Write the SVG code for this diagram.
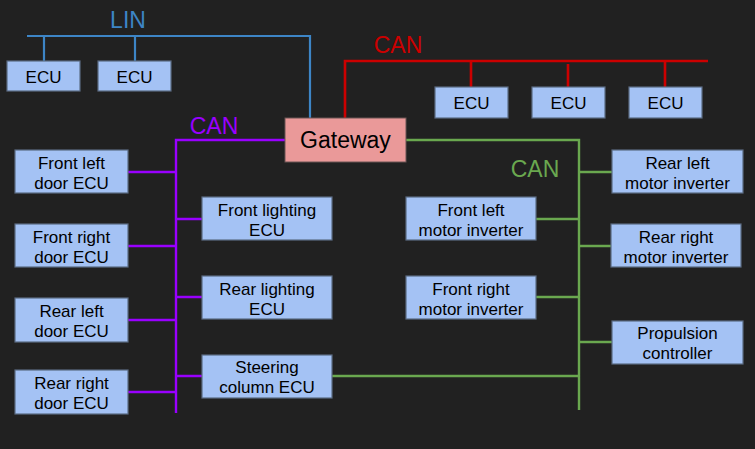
<svg xmlns="http://www.w3.org/2000/svg" width="755" height="449" viewBox="0 0 755 449">
<style>
.box{fill:#a4c2f4;stroke:#5b6b82;stroke-width:1.2}
.gw{fill:#ea9999;stroke:#6b5555;stroke-width:1}
text{font-family:"Liberation Sans",Arial,sans-serif;fill:#000;text-anchor:middle}
.t{font-size:17px}
.bus{font-size:23px}
.lin{stroke:#3d85c6;stroke-width:2.2;fill:none}
.red{stroke:#cc0000;stroke-width:2.6;fill:none}
.pur{stroke:#9900ff;stroke-width:2.4;fill:none}
.grn{stroke:#6aa84f;stroke-width:2.4;fill:none}
</style>
<rect width="755" height="449" fill="#212121"/>
<g id="connectors">
<path class="lin" d="M27,36 H310 V118 M44,36 V61 M135,36 V61"/>
<path class="red" d="M345,118 V61 H708 M471,61 V87 M568,64 V87 M665,61 V87"/>
<path class="pur" d="M285,140 H176 V413 M128,172 H176 M128,246 H176 M128,320 H176 M128,392 H176 M176,219 H202 M176,297 H202 M176,376 H202"/>
<path class="grn" d="M406,140 H579 V410 M536,219 H579 M536,297 H579 M332,376 H579 M579,172 H612 M579,246 H611 M579,342 H612"/>
<text class="bus" x="128" y="28" fill="#3d85c6" style="fill:#3d85c6">LIN</text>
<text class="bus" x="398" y="53" style="fill:#cc0000">CAN</text>
<text class="bus" x="214" y="134" style="fill:#9900ff">CAN</text>
<text class="bus" x="535" y="177" style="fill:#6aa84f">CAN</text>
</g>
<g id="gateway"><rect class="gw" x="285" y="118" width="121" height="44"/><text x="345.5" y="148" style="font-size:23px">Gateway</text></g>
<g id="lin-ecu1"><rect class="box" x="7" y="61" width="73" height="30"/><text class="t" x="43.5" y="83">ECU</text></g>
<g id="lin-ecu2"><rect class="box" x="98" y="61" width="73" height="30"/><text class="t" x="134.5" y="83">ECU</text></g>
<g id="can-ecu1"><rect class="box" x="435" y="87" width="73" height="31"/><text class="t" x="471.5" y="109">ECU</text></g>
<g id="can-ecu2"><rect class="box" x="532" y="87" width="73" height="31"/><text class="t" x="568.5" y="109">ECU</text></g>
<g id="can-ecu3"><rect class="box" x="629" y="87" width="73" height="31"/><text class="t" x="665.5" y="109">ECU</text></g>
<g id="fl-door"><rect class="box" x="15" y="150" width="113" height="43"/><text class="t" x="71.5" y="169">Front left</text><text class="t" x="71.5" y="189">door ECU</text></g>
<g id="fr-door"><rect class="box" x="15" y="224" width="113" height="43"/><text class="t" x="71.5" y="243">Front right</text><text class="t" x="71.5" y="263">door ECU</text></g>
<g id="rl-door"><rect class="box" x="15" y="298" width="113" height="44"/><text class="t" x="71.5" y="317">Rear left</text><text class="t" x="71.5" y="337">door ECU</text></g>
<g id="rr-door"><rect class="box" x="15" y="370" width="113" height="44"/><text class="t" x="71.5" y="389">Rear right</text><text class="t" x="71.5" y="409">door ECU</text></g>
<g id="front-lighting"><rect class="box" x="202" y="197" width="130" height="43"/><text class="t" x="267" y="216">Front lighting</text><text class="t" x="267" y="236">ECU</text></g>
<g id="rear-lighting"><rect class="box" x="202" y="276" width="130" height="43"/><text class="t" x="267" y="295">Rear lighting</text><text class="t" x="267" y="315">ECU</text></g>
<g id="steering"><rect class="box" x="202" y="355" width="130" height="43"/><text class="t" x="267" y="373">Steering</text><text class="t" x="267" y="393">column ECU</text></g>
<g id="fl-motor"><rect class="box" x="406" y="197" width="130" height="43"/><text class="t" x="471" y="216">Front left</text><text class="t" x="471" y="236">motor inverter</text></g>
<g id="fr-motor"><rect class="box" x="406" y="276" width="130" height="43"/><text class="t" x="471" y="295">Front right</text><text class="t" x="471" y="315">motor inverter</text></g>
<g id="rl-motor"><rect class="box" x="612" y="150" width="131" height="43"/><text class="t" x="677.5" y="169">Rear left</text><text class="t" x="677.5" y="189">motor inverter</text></g>
<g id="rr-motor"><rect class="box" x="611" y="224" width="130" height="43"/><text class="t" x="676" y="243">Rear right</text><text class="t" x="676" y="263">motor inverter</text></g>
<g id="propulsion"><rect class="box" x="612" y="321" width="131" height="43"/><text class="t" x="677.5" y="339">Propulsion</text><text class="t" x="677.5" y="359">controller</text></g>
</svg>
